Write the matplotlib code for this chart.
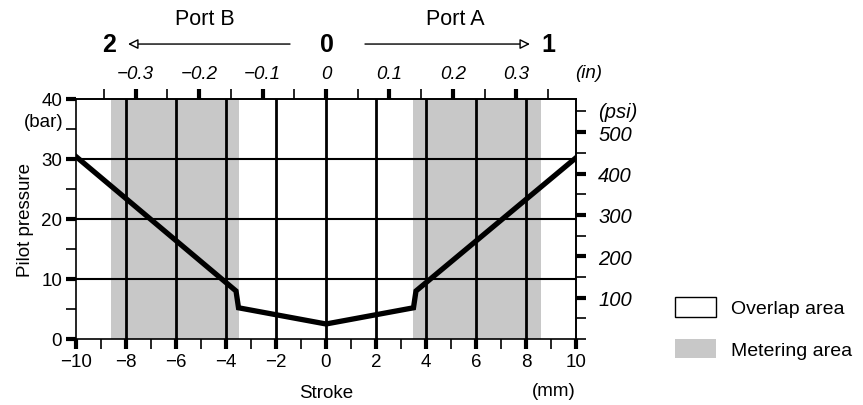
import matplotlib
matplotlib.use("Agg")
import matplotlib.pyplot as plt
from matplotlib.patches import Patch
from matplotlib.ticker import MultipleLocator

# stroke (mm) vs pilot pressure (bar)
stroke_mm = [-10, -3.6, -3.5, 0, 3.5, 3.6, 10]
pressure_bar = [30.4, 8.0, 5.2, 2.5, 5.2, 8.0, 30.2]
metering_areas = [(-8.6, -3.5), (3.5, 8.6)]

x_ticks = [-10, -8, -6, -4, -2, 0, 2, 4, 6, 8, 10]
x_labels = ["\u221210", "\u22128", "\u22126", "\u22124", "\u22122", "0", "2", "4", "6", "8", "10"]
y_ticks = [0, 10, 20, 30, 40]
in_ticks = [-0.3, -0.2, -0.1, 0, 0.1, 0.2, 0.3]
in_labels = ["\u22120.3", "\u22120.2", "\u22120.1", "0", "0.1", "0.2", "0.3"]
psi_ticks = [100, 200, 300, 400, 500]
legend_labels = ["Overlap area", "Metering area"]

MM_PER_IN = 25.4
PSI_PER_BAR = 14.5038
shade = "#c8c8c8"

plt.rcParams["font.family"] = ["Liberation Sans", "DejaVu Sans"]
plt.rcParams["font.size"] = 13.5

fig = plt.figure(figsize=(8.63, 4.06), dpi=100)
ax = fig.add_axes([0.0881, 0.1626, 0.5793, 0.5911])

for left, right in metering_areas:
    ax.axvspan(left, right, color=shade, lw=0, zorder=0)

for x in x_ticks[1:-1]:
    ax.axvline(x, color="black", lw=2.0, zorder=1)
for y in y_ticks[1:-1]:
    ax.axhline(y, color="black", lw=1.5, zorder=1)

ax.plot(stroke_mm, pressure_bar, color="black", lw=3.8,
        solid_joinstyle="miter", zorder=3)

ax.set_xlim(-10, 10)
ax.set_ylim(0, 40)
ax.set_xticks(x_ticks)
ax.set_xticklabels(x_labels)
ax.set_yticks(y_ticks)
ax.xaxis.set_minor_locator(MultipleLocator(1))
ax.yaxis.set_minor_locator(MultipleLocator(5))
ax.tick_params(which="major", length=7, width=3, direction="out", pad=3)
ax.tick_params(which="minor", length=7, width=1.2, direction="out")
for s in ax.spines.values():
    s.set_linewidth(1.2)

ax.set_xlabel("Stroke", labelpad=10)
ax.set_ylabel("Pilot pressure", labelpad=5)
ax.text(-0.065, 0.905, "(bar)", transform=ax.transAxes, ha="center", va="center")
ax.text(1.0, -0.215, "(mm)", transform=ax.transAxes, ha="right", va="center")

# inches on top
top = ax.secondary_xaxis("top", functions=(lambda v: v / MM_PER_IN,
                                           lambda v: v * MM_PER_IN))
top.set_xticks(in_ticks)
top.set_xticklabels(in_labels, fontstyle="italic")
top.xaxis.set_minor_locator(MultipleLocator(0.05))
top.tick_params(which="major", length=7, width=3, pad=5)
top.tick_params(which="minor", length=7, width=1.2)
top.spines["top"].set_linewidth(1.2)
ax.text(1.025, 1.11, "(in)", transform=ax.transAxes, ha="center", va="center",
        fontstyle="italic")

# psi on the right
right = ax.secondary_yaxis("right", functions=(lambda v: v * PSI_PER_BAR,
                                               lambda v: v / PSI_PER_BAR))
right.set_yticks(psi_ticks)
right.set_yticklabels([str(p) for p in psi_ticks], fontstyle="italic",
                      fontsize=14.5)
right.yaxis.set_minor_locator(MultipleLocator(50))
right.tick_params(which="major", length=7, width=3, pad=9)
right.tick_params(which="minor", length=7, width=1.2)
right.spines["right"].set_linewidth(1.2)
ax.text(1.044, 550 / PSI_PER_BAR / 40, "(psi)", transform=ax.transAxes,
        ha="left", va="center", fontstyle="italic", fontsize=14.5)

# port direction arrows
arrow = dict(arrowstyle="-|>", color="black", lw=1.0, fc="white",
             mutation_scale=15, shrinkA=0, shrinkB=0)
ax.annotate("", xy=(0.104, 1.229), xytext=(0.428, 1.229),
            xycoords="axes fraction", arrowprops=arrow)
ax.annotate("", xy=(0.908, 1.229), xytext=(0.578, 1.229),
            xycoords="axes fraction", arrowprops=arrow)
for xpos, label in [(0.066, "2"), (0.502, "0"), (0.944, "1")]:
    ax.text(xpos, 1.229, label, transform=ax.transAxes, ha="center",
            va="center", fontsize=18, fontweight="bold")
ax.text(0.258, 1.335, "Port B", transform=ax.transAxes, ha="center",
        va="center", fontsize=15.5)
ax.text(0.758, 1.335, "Port A", transform=ax.transAxes, ha="center",
        va="center", fontsize=15.5)

handles = [Patch(facecolor="white", edgecolor="black", lw=1.0),
           Patch(facecolor=shade, edgecolor="none")]
fig.legend(handles, legend_labels, loc="center left",
           bbox_to_anchor=(0.762, 0.19), frameon=False,
           handlelength=2.1, handleheight=1.2, handletextpad=0.8,
           labelspacing=1.1, fontsize=14)

fig.savefig("out.png", dpi=100)
